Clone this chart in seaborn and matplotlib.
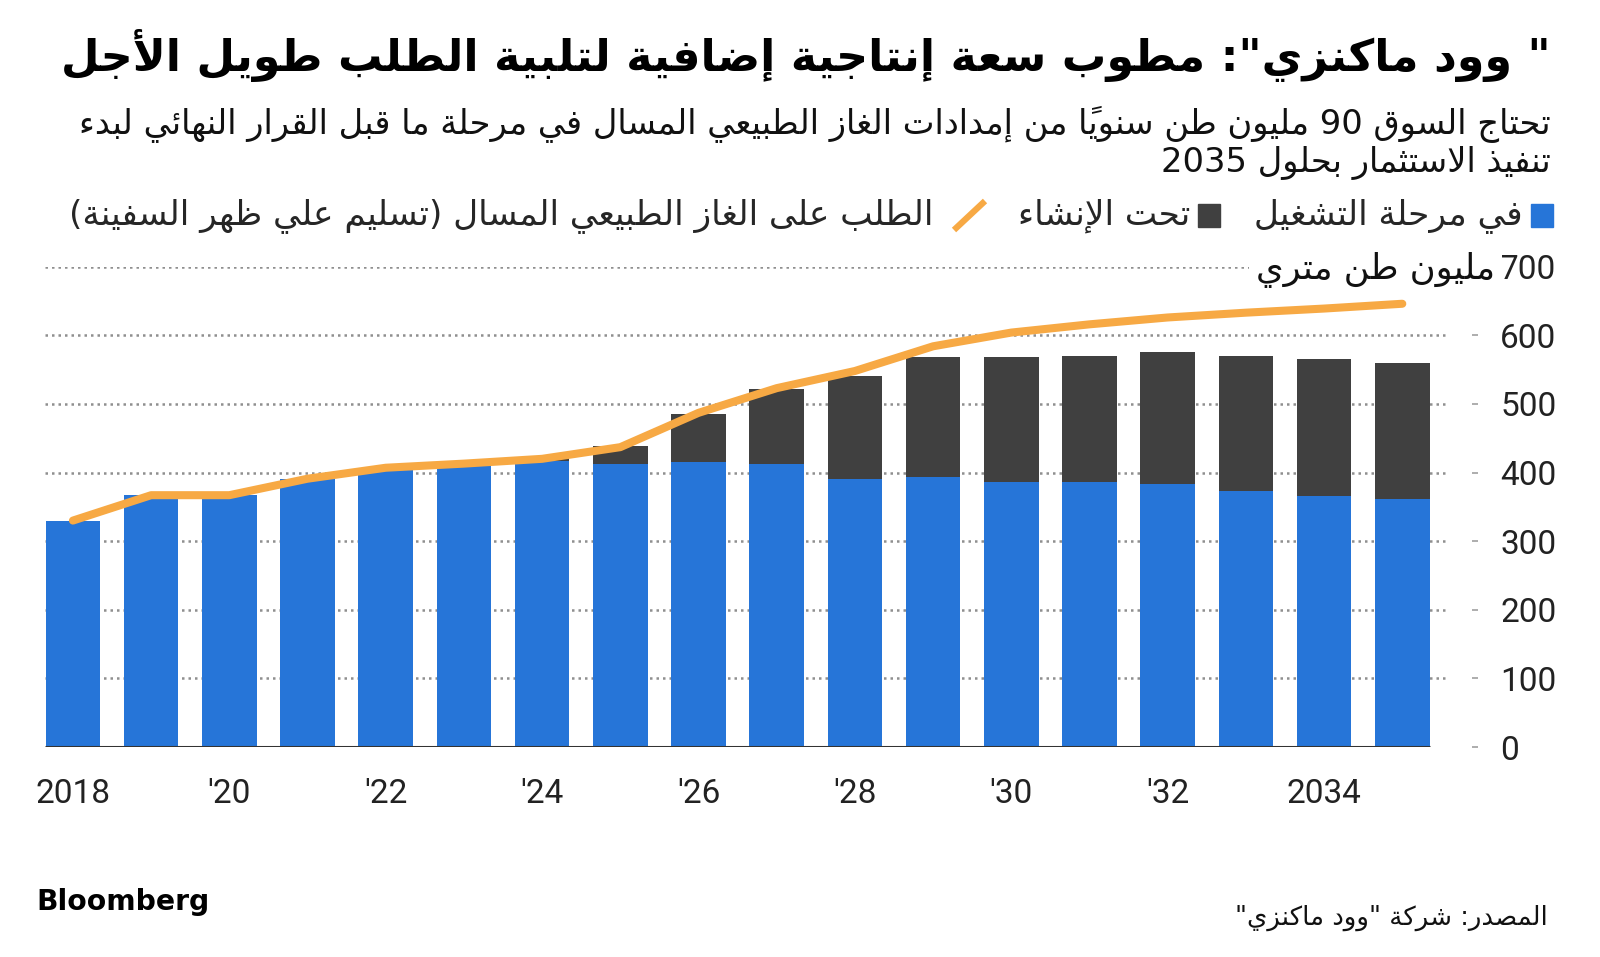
import unicodedata

import matplotlib
matplotlib.use("Agg")
import matplotlib.pyplot as plt
import matplotlib.patches as mpatches
from matplotlib.lines import Line2D
import pandas as pd
import seaborn as sns

# LNG supply / demand, million tonnes per year
years = list(range(2018, 2036))
in_operation = [330, 367, 367, 390, 405, 412, 417, 412, 415, 412, 391, 393, 386, 386, 383, 373, 366, 361]
under_construction = [0, 0, 0, 0, 0, 0, 4, 26, 71, 110, 150, 176, 183, 184, 192, 197, 199, 198]
lng_demand = [330, 367, 367, 391, 407, 413, 420, 437, 487, 523, 548, 584, 604, 616, 626, 633, 639, 646]

tick_years = [2018, 2020, 2022, 2024, 2026, 2028, 2030, 2032, 2034]
tick_labels = ["2018", "'20", "'22", "'24", "'26", "'28", "'30", "'32", "2034"]
y_ticks = [0, 100, 200, 300, 400, 500, 600, 700]

title = '" وود ماكنزي": مطوب سعة إنتاجية إضافية لتلبية الطلب طويل الأجل'
subtitle_1 = "تحتاج السوق 90 مليون طن سنوياً من إمدادات الغاز الطبيعي المسال في مرحلة ما قبل القرار النهائي لبدء"
subtitle_2 = "تنفيذ الاستثمار بحلول 2035"
legend_labels = ["في مرحلة التشغيل", "تحت الإنشاء", "الطلب على الغاز الطبيعي المسال (تسليم علي ظهر السفينة)"]
unit_label = "مليون طن متري"
source = 'المصدر: شركة "وود ماكنزي"'

BLUE = "#2675d8"
DARK = "#404040"
ORANGE = "#f7a944"


# --- minimal Arabic shaping + right-to-left ordering (matplotlib has none) ---
def letter_forms(ch):
    name = unicodedata.name(ch, "")
    forms = {}
    if name.startswith("ARABIC LETTER "):
        for f in ("ISOLATED", "FINAL", "INITIAL", "MEDIAL"):
            try:
                forms[f] = unicodedata.lookup(f"{name} {f} FORM")
            except KeyError:
                pass
    return forms


def is_mark(ch):
    return unicodedata.category(ch) == "Mn"


def shape(text):
    n = len(text)

    def neighbour(i, step):
        j = i + step
        while 0 <= j < n and is_mark(text[j]):
            j += step
        return text[j] if 0 <= j < n else None

    out = []
    i = 0
    while i < n:
        ch = text[i]
        forms = letter_forms(ch)
        if not forms:
            out.append(ch)
            i += 1
            continue
        prev = neighbour(i, -1)
        nxt = neighbour(i, 1)
        join_prev = prev is not None and "INITIAL" in letter_forms(prev) and "FINAL" in forms
        # lam + alef ligature
        if unicodedata.name(ch) == "ARABIC LETTER LAM" and nxt is not None \
                and unicodedata.name(nxt).startswith("ARABIC LETTER ALEF") \
                and "MAKSURA" not in unicodedata.name(nxt) and i + 1 < n and text[i + 1] == nxt:
            rest = unicodedata.name(nxt)[len("ARABIC LETTER "):]
            form = "FINAL" if join_prev else "ISOLATED"
            out.append(unicodedata.lookup(f"ARABIC LIGATURE LAM WITH {rest} {form} FORM"))
            i += 2
            continue
        join_next = nxt is not None and "INITIAL" in forms and "FINAL" in letter_forms(nxt)
        if join_prev and join_next:
            form = "MEDIAL"
        elif join_prev:
            form = "FINAL"
        elif join_next:
            form = "INITIAL"
        else:
            form = "ISOLATED"
        out.append(forms.get(form, ch))
        i += 1
    return "".join(out)


MIRROR = {"(": ")", ")": "("}


def rtl(text):
    s = shape(text)
    runs = []
    for ch in s:
        ltr = ch.isascii() and ch.isalnum()
        if runs and runs[-1][0] == ltr:
            runs[-1][1].append(ch)
        else:
            runs.append([ltr, [ch]])
    out = []
    for ltr, chs in reversed(runs):
        if ltr:
            out.extend(chs)
            continue
        clusters = []
        for ch in chs:
            if is_mark(ch) and clusters:
                clusters[-1] += ch
            else:
                clusters.append(ch)
        for c in reversed(clusters):
            out.append("".join(MIRROR.get(x, x) for x in c))
    return "".join(out)


df = pd.DataFrame({
    "year": years,
    "operation": in_operation,
    "total": [a + b for a, b in zip(in_operation, under_construction)],
    "demand": lng_demand,
})

sns.set_style("white")
plt.rcParams["font.family"] = ["DejaVu Sans"]
NUM_FONT = ["Roboto", "DejaVu Sans"]

W, H = 1600, 957
fig = plt.figure(figsize=(W / 100, H / 100), dpi=100)
ax = fig.add_axes([45 / W, 1 - 747 / H, (1472 - 45) / W, (747 - 266.7) / H])

sns.barplot(data=df, x="year", y="total", native_scale=True, width=0.7, color=DARK,
            saturation=1, errorbar=None, ax=ax, zorder=2, linewidth=0, edgecolor="none")
sns.barplot(data=df, x="year", y="operation", native_scale=True, width=0.7, color=BLUE,
            saturation=1, errorbar=None, ax=ax, zorder=2, linewidth=0, edgecolor="none")
sns.lineplot(data=df, x="year", y="demand", color=ORANGE, lw=5.8, ax=ax, zorder=4,
             solid_capstyle="round", clip_on=False)

x_left, x_right = 2018 - 0.357, 2018 + (1472 - 72.9) / 78.2
grid_end = 2018 + (1448 - 72.9) / 78.2
ax.set_xlim(x_left, x_right)
ax.set_ylim(0, 700)

ax.hlines(y_ticks[1:], x_left, grid_end, colors="#8f8f8f", linestyles=(0, (1, 1.6)), lw=1.8, zorder=1)
ax.hlines(0, x_left, 2035.35, colors="#333333", lw=2.2, zorder=3)

for s in ax.spines.values():
    s.set_visible(False)
ax.set_xlabel("")
ax.set_ylabel("")
ax.set_xticks(tick_years)
ax.set_xticklabels(tick_labels, family=NUM_FONT, fontsize=24, color="#222222")
ax.yaxis.tick_right()
ax.set_yticks(y_ticks)
ax.set_yticklabels([str(v) for v in y_ticks], family=NUM_FONT, fontsize=24, color="#222222")
ax.tick_params(axis="x", length=7.5, width=1.5, color="#333333", pad=15)
ax.tick_params(axis="y", length=4.3, width=1.2, color="#a0a0a0", pad=16)
ax.grid(False)

renderer = fig.canvas.get_renderer()


def fit(txt, width_px):
    w = txt.get_window_extent(renderer=renderer).width
    txt.set_fontsize(txt.get_fontsize() * width_px / w)
    return txt


# header
fit(fig.text(1551 / W, 1 - 56 / H, rtl(title), ha="right", va="center",
             fontsize=30, fontweight="bold", color="black"), 1485)
sub1 = fit(fig.text(1551 / W, 1 - 124 / H, rtl(subtitle_1), ha="right", va="center",
                    fontsize=18, color="#111111"), 1478)
fig.text(1551 / W, 1 - 163 / H, rtl(subtitle_2), ha="right", va="center",
         fontsize=sub1.get_fontsize(), color="#111111")

# legend row (right to left)
ly = 1 - 216 / H
fs_leg = 18
t3_probe = fig.text(0, 0, rtl(legend_labels[2]), fontsize=fs_leg)
fs_leg = fs_leg * 867 / t3_probe.get_window_extent(renderer=renderer).width
t3_probe.remove()

fig.patches.append(mpatches.Rectangle((1531 / W, 1 - 227 / H), 22 / W, 23 / H,
                                      transform=fig.transFigure, color=BLUE, figure=fig))
t1 = fig.text(1523 / W, ly, rtl(legend_labels[0]), ha="right", va="center", fontsize=fs_leg)
left1 = t1.get_window_extent(renderer=renderer).x0
sq2_right = left1 - 34
fig.patches.append(mpatches.Rectangle(((sq2_right - 22) / W, 1 - 227 / H), 22 / W, 23 / H,
                                      transform=fig.transFigure, color=DARK, figure=fig))
t2 = fig.text((sq2_right - 30) / W, ly, rtl(legend_labels[1]), ha="right", va="center", fontsize=fs_leg)
left2 = t2.get_window_extent(renderer=renderer).x0
ln_right = left2 - 33
fig.add_artist(Line2D([(ln_right - 31) / W, ln_right / W], [1 - 230 / H, 1 - 201 / H],
                      transform=fig.transFigure, color=ORANGE, lw=4.5, solid_capstyle="butt"))
fig.text((ln_right - 52) / W, ly, rtl(legend_labels[2]), ha="right", va="center", fontsize=fs_leg)

# unit label next to the top tick
fit(fig.text(1495 / W, 1 - 270 / H, rtl(unit_label), ha="right", va="center", fontsize=20,
             color="#111111", bbox=dict(facecolor="white", edgecolor="none", pad=4)), 240)

# footer
fit(fig.text(36 / W, 1 - 902 / H, "Bloomberg", ha="left", va="center", fontsize=20,
             fontweight="bold", color="black"), 173)
fit(fig.text(1548 / W, 1 - 918 / H, rtl(source), ha="right", va="center", fontsize=16,
             color="#111111"), 313)

fig.savefig("out.png", dpi=100, facecolor="white")
